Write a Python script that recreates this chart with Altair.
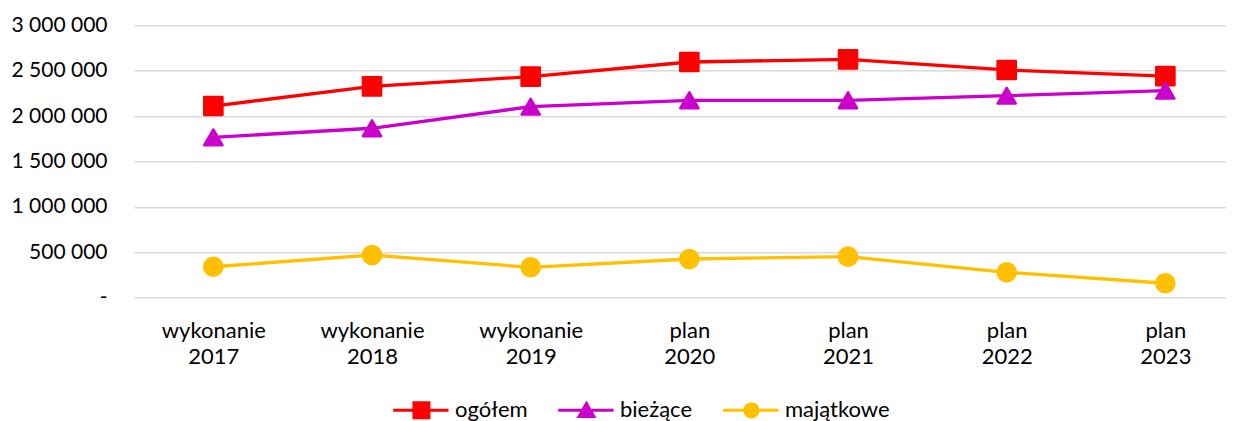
import altair as alt
import pandas as pd

categories = ["wykonanie 2017", "wykonanie 2018", "wykonanie 2019",
              "plan 2020", "plan 2021", "plan 2022", "plan 2023"]
series_names = ["ogółem", "bieżące", "majątkowe"]
ogolem = [2111000, 2328000, 2434000, 2596000, 2625000, 2508000, 2441000]
biezace = [1766000, 1866000, 2104000, 2174000, 2174000, 2225000, 2280000]
majatkowe = [341000, 470000, 335000, 426000, 452000, 280000, 159000]
y_ticks = [0, 500000, 1000000, 1500000, 2000000, 2500000, 3000000]
colors = ["#FF0000", "#CC00CC", "#FFC000"]
shapes = ["square", "triangle-up", "circle"]

rows = []
for name, vals in zip(series_names, [ogolem, biezace, majatkowe]):
    for i, (c, v) in enumerate(zip(categories, vals)):
        rows.append({"kategoria": c, "seria": name, "wartosc": v, "idx": i})
df = pd.DataFrame(rows)

# legend symbols: line segment with a marker in the middle (unit = symbol radius)
line_part = "M-1.2,-0.17H4.95V0.17H-1.2Z "
legend_shapes = [
    line_part + "M0.94,-1H2.94V1H0.94Z",
    line_part + "M1.94,-1.1L3.05,0.85H0.83Z",
    line_part + "M2.84,0A0.9,0.9 0 1,1 1.04,0A0.9,0.9 0 1,1 2.84,0Z",
]

color_scale = alt.Scale(domain=series_names, range=colors)

x_enc = alt.X(
    "kategoria:N", sort=categories,
    scale=alt.Scale(type="point", range=[0, 1110.7], padding=0.5),
    axis=alt.Axis(title=None, labelExpr="split(datum.label, ' ')", labelAngle=0,
                  ticks=False, domain=False, grid=False, labelFontSize=22,
                  labelLineHeight=26, labelPadding=23, labelColor="#000000"),
)
y_enc = alt.Y(
    "wartosc:Q", scale=alt.Scale(domain=[0, 3000000], nice=False),
    axis=alt.Axis(values=y_ticks, title=None,
                  labelExpr="datum.value == 0 ? '-' : replace(format(datum.value, ','), /,/g, ' ')",
                  domain=False, ticks=False, labelPadding=27, labelFontSize=21,
                  gridColor="#d9d9d9", gridWidth=1.5, labelColor="#000000"),
)

legend = alt.Legend(
    orient="none", legendX=259, legendY=374, direction="horizontal",
    title=None, symbolSize=324, labelOffset=40, columnPadding=30,
    labelFontSize=22, labelColor="#000000", padding=0, symbolStrokeWidth=0,
    symbolOpacity=1,
)

base = alt.Chart(df)

lines = base.mark_line(strokeWidth=3.3).encode(
    x=x_enc, y=y_enc,
    color=alt.Color("seria:N", scale=color_scale, legend=None),
    detail="seria:N",
    order="idx:Q",
)

points = base.mark_point(filled=True, opacity=1, size=330, strokeWidth=2.5,
                         strokeJoin="round").encode(
    x=x_enc, y=y_enc,
    color=alt.Color("seria:N", scale=color_scale, legend=None),
    stroke=alt.Stroke("seria:N", scale=color_scale, legend=None),
    shape=alt.Shape("seria:N", scale=alt.Scale(domain=series_names, range=shapes),
                    legend=None),
)

legend_layer = base.transform_filter("false").mark_point(filled=True, opacity=1).encode(
    x=x_enc, y=y_enc,
    color=alt.Color("seria:N", scale=color_scale, legend=legend),
    shape=alt.Shape("seria:N", scale=alt.Scale(domain=series_names, range=legend_shapes),
                    legend=legend),
)

chart = alt.layer(lines, points, legend_layer).resolve_scale(
    shape="independent"
).resolve_legend(
    color="independent", shape="independent"
).properties(
    width=1092, height=272.4,
    autosize=alt.AutoSizeParams(type="none"),
    padding={"left": 126, "top": 17.3, "right": 0, "bottom": 123.3},
).configure_view(stroke=None).configure_axis(
    labelFont="Lato"
).configure_legend(labelFont="Lato")

chart.save("out.html", embed_options={"renderer": "svg", "actions": False})
